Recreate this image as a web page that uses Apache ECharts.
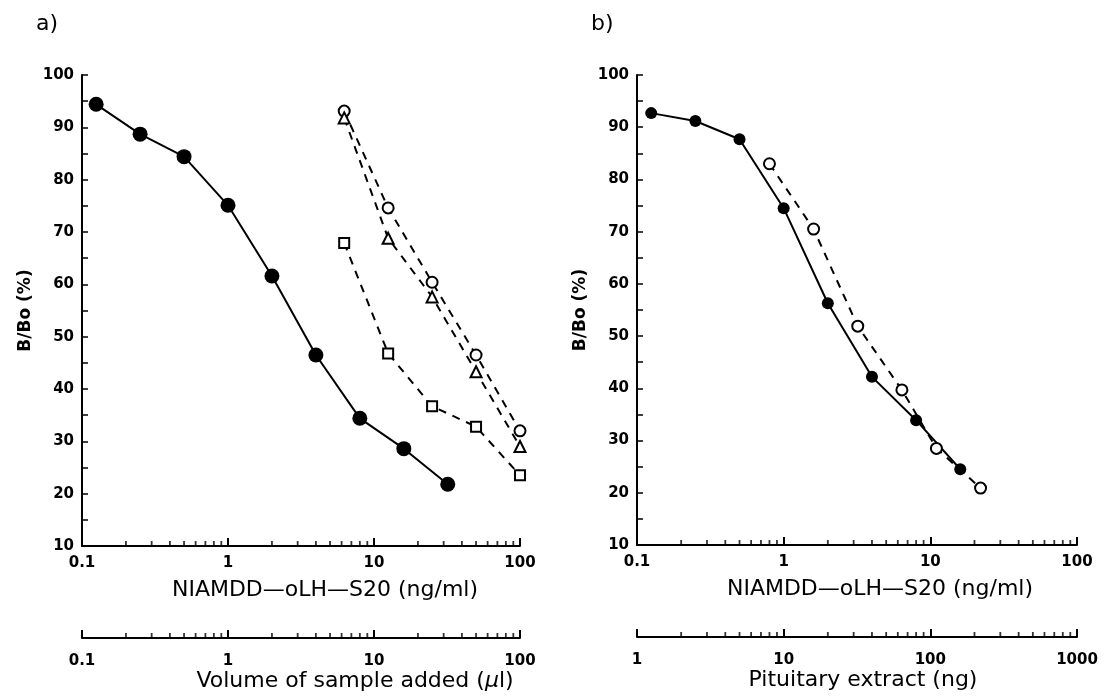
<!DOCTYPE html>
<html><head><meta charset="utf-8">
<script src="https://cdn.jsdelivr.net/npm/echarts@6/dist/echarts.min.js"></script>
<style>html,body{margin:0;padding:0;background:#fff}#c{width:1118px;height:698px}</style>
</head><body><div id="c"></div>
<script>
// ---- Panel a) ----
const aStdDose = [0.125, 0.25, 0.5, 1, 2, 4, 8, 16, 32];          // ng/ml
const aStdBB0 = [94.4, 88.7, 84.4, 75.1, 61.6, 46.5, 34.4, 28.6, 21.8];
const aSampleVol = [6.25, 12.5, 25, 50, 100];                     // µl
const aCircleBB0 = [93.1, 74.6, 60.4, 46.5, 32.0];
const aTriangleBB0 = [91.8, 68.8, 57.6, 43.3, 29.0];
const aSquareBB0 = [67.9, 46.8, 36.7, 32.8, 23.5];
// ---- Panel b) ----
const bStdDose = [0.125, 0.25, 0.5, 1, 2, 4, 8, 16];               // ng/ml
const bStdBB0 = [92.7, 91.2, 87.7, 74.5, 56.3, 42.2, 33.9, 24.5];
const bExtractDose = [0.8, 1.6, 3.2, 6.4, 11, 22];                 // ng/ml equivalent axis
const bExtractBB0 = [83.0, 70.5, 51.9, 39.7, 28.5, 20.9];
// ---- Axes / text ----
const yRange = [10, 100];
const concRange = [0.1, 100];
const volRange = [0.1, 100];
const pitRange = [1, 1000];
const minorMantissas = [2, 3, 4, 5, 6, 7, 8, 9];
const concDecades = [0.1, 1, 10];
const pitDecades = [1, 10, 100];
const yName = 'B/Bo (%)';
const concName = 'NIAMDD\u2014oLH\u2014S20 (ng/ml)';
const volName = 'Volume of sample added ({i|\u00b5}l)';
const pitName = 'Pituitary extract (ng)';
const panelLabels = ['a)', 'b)'];

const pair = (xs, ys) => xs.map((x, i) => [x, ys[i]]);
const minorTicks = (decs, y) => {
  const out = [];
  decs.forEach(d => minorMantissas.forEach(m => out.push([+(d * m).toPrecision(3), y])));
  return out;
};

const FONT = 'DejaVu Sans';
const black = '#000';

const G = [
  {left: 82, top: 75, width: 438, height: 471},
  {left: 637, top: 75, width: 440, height: 470},
  {left: 82, top: 628, width: 438, height: 10},
  {left: 637, top: 627, width: 440, height: 10}
];

function xLog(gi, range, name, nameGap, shift, labelMargin) {
  return {
    type: 'log', logBase: 10, gridIndex: gi, min: range[0], max: range[1],
    axisLine: {show: true, onZero: false, lineStyle: {color: black, width: 2}},
    axisTick: {show: true, inside: true, length: 8, lineStyle: {color: black, width: 2}},
    splitLine: {show: false},
    axisLabel: {color: black, fontFamily: FONT, fontSize: 15, fontWeight: 'bold', margin: labelMargin,
      formatter: v => String(+v.toPrecision(3))},
    name: name, nameLocation: 'middle', nameGap: nameGap,
    nameTextStyle: {color: black, fontFamily: FONT, fontSize: 22, padding: [0, 0, 0, shift],
      rich: {i: {fontStyle: 'italic', fontFamily: FONT, fontSize: 22, color: black}}}
  };
}
function yMain(gi) {
  return {
    type: 'value', gridIndex: gi, min: yRange[0], max: yRange[1], interval: 5,
    axisLine: {show: true, onZero: false, lineStyle: {color: black, width: 2}},
    axisTick: {show: true, inside: true, length: 6, lineStyle: {color: black, width: 1.5}},
    splitLine: {show: false},
    axisLabel: {color: black, fontFamily: FONT, fontSize: 15, fontWeight: 'bold', margin: 8,
      formatter: v => (v % 10 === 0 ? String(v) : '')},
    name: yName, nameLocation: 'middle', nameRotate: 90, nameGap: 48,
    nameTextStyle: {color: black, fontFamily: FONT, fontSize: 17, fontWeight: 'bold'}
  };
}
function yHidden(gi) {
  return {type: 'value', gridIndex: gi, min: 0, max: 1, show: false};
}
function tickSeries(xi, yi, data) {
  return {
    type: 'scatter', xAxisIndex: xi, yAxisIndex: yi, data: data, silent: true, clip: false,
    symbol: 'rect', symbolSize: [1.8, 5], symbolOffset: [0, -2.5],
    itemStyle: {color: black}, z: 1
  };
}
function solid(xi, data, size) {
  return {
    type: 'line', xAxisIndex: xi, yAxisIndex: xi, data: data,
    symbol: 'circle', symbolSize: size, showSymbol: true,
    lineStyle: {color: black, width: 2}, itemStyle: {color: black}, z: 3
  };
}
function dashed(xi, data, symbol, size) {
  return {
    type: 'line', xAxisIndex: xi, yAxisIndex: xi, data: data,
    symbol: symbol, symbolSize: size, showSymbol: true,
    lineStyle: {color: black, width: 2, type: [8, 7]},
    itemStyle: {color: '#fff', borderColor: black, borderWidth: 2}, z: 3
  };
}

const option = {
  backgroundColor: '#fff',
  animation: false,
  grid: G,
  xAxis: [
    xLog(0, concRange, concName, 33, 48, 10),
    xLog(1, concRange, concName, 33, 46, 10),
    xLog(2, volRange, volName, 30, 108, 16),
    xLog(3, pitRange, pitName, 30, 12, 16)
  ],
  yAxis: [yMain(0), yMain(1), yHidden(2), yHidden(3)],
  graphic: [
    {type: 'text', left: 36, top: 13, style: {text: panelLabels[0], fontFamily: FONT, fontSize: 22, fill: black}},
    {type: 'text', left: 591, top: 13, style: {text: panelLabels[1], fontFamily: FONT, fontSize: 22, fill: black}}
  ],
  series: [
    tickSeries(0, 0, minorTicks(concDecades, yRange[0])),
    tickSeries(1, 1, minorTicks(concDecades, yRange[0])),
    tickSeries(2, 2, minorTicks(concDecades, 0)),
    tickSeries(3, 3, minorTicks(pitDecades, 0)),
    solid(0, pair(aStdDose, aStdBB0), 15),
    dashed(0, pair(aSampleVol, aCircleBB0), 'circle', 11),
    dashed(0, pair(aSampleVol, aTriangleBB0), 'triangle', 11),
    dashed(0, pair(aSampleVol, aSquareBB0), 'rect', 10),
    solid(1, pair(bStdDose, bStdBB0), 12),
    dashed(1, pair(bExtractDose, bExtractBB0), 'circle', 11)
  ]
};
const chart = echarts.init(document.getElementById('c'), null, {renderer: 'canvas'});
chart.setOption(option);
</script>
</body></html>
